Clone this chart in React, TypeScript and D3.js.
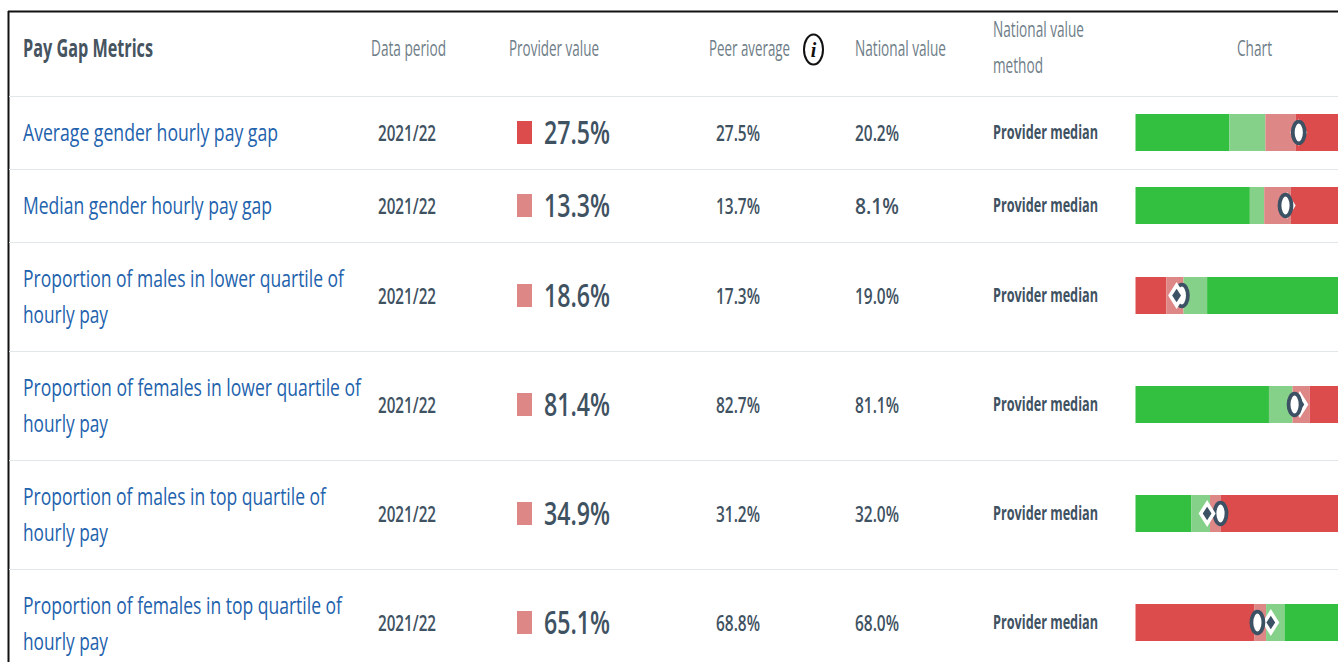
import React from "react";
import * as d3 from "d3";

// Table content
const metricLines = [
  ["Average gender hourly pay gap"],
  ["Median gender hourly pay gap"],
  ["Proportion of males in lower quartile of", "hourly pay"],
  ["Proportion of females in lower quartile of", "hourly pay"],
  ["Proportion of males in top quartile of", "hourly pay"],
  ["Proportion of females in top quartile of", "hourly pay"],
];
const metricWidths = [[255], [249], [321, 85], [338, 85], [303, 85], [319, 85]];
const periods = ["2021/22", "2021/22", "2021/22", "2021/22", "2021/22", "2021/22"];
const providerValues = [27.5, 13.3, 18.6, 81.4, 34.9, 65.1];
const peerValues = [27.5, 13.7, 17.3, 82.7, 31.2, 68.8];
const nationalValues = [20.2, 8.1, 19.0, 81.1, 32.0, 68.0];
const methods = ["Provider median", "Provider median", "Provider median", "Provider median", "Provider median", "Provider median"];
const swatchLevel = ["high", "mid", "mid", "mid", "mid", "mid"];

// Per-row chart: visible value domain and band edges (estimated from the bars)
const domainMin = [-8.2, -23.3, 7.2, 42.3, 11.4, 31.4];
const domainMax = [41.0, 31.6, 62.5, 97.6, 73.6, 93.6];
const bandEdges = [
  [12.3, 20.2, 26.8],
  [4.6, 8.1, 14.6],
  [14.8, 19.0, 24.8],
  [75.1, 80.9, 85.1],
  [26.8, 32.0, 35.0],
  [64.2, 67.5, 72.6],
];
const lowIsGood = [true, true, false, true, true, false];

// Layout
const rowLines = [96, 169, 242, 351, 460, 569];
const rowCenters = [133, 206, 296, 405, 514, 623];
const chartLeft = 1135.5;
const chartRight = 1360.5;
const barHeight = 37;

const GREEN = "#33c040";
const LIGHT_GREEN = "#85d18a";
const PINK = "#dd8787";
const RED = "#dc4c4c";
const INK = "#3f5262";
const LINK = "#2262ad";
const MUTED = "#6e7d87";
const FONT = "'Open Sans', sans-serif";

type TProps = { x: number; y: number; w: number; size: number; weight?: number; fill: string; children: string };
function T({ x, y, w, size, weight = 400, fill, children }: TProps) {
  return (
    <text x={x} y={y} textLength={w} lengthAdjust="spacingAndGlyphs" fontFamily={FONT} fontSize={size} fontWeight={weight} fill={fill}>
      {children}
    </text>
  );
}

function RowBar({ i }: { i: number }) {
  const x = d3.scaleLinear().domain([domainMin[i], domainMax[i]]).range([chartLeft, chartRight]);
  const colors = lowIsGood[i] ? [GREEN, LIGHT_GREEN, PINK, RED] : [RED, PINK, LIGHT_GREEN, GREEN];
  const edges = [domainMin[i], ...bandEdges[i], domainMax[i]];
  const top = rowCenters[i] - barHeight / 2 - 0.5;
  const cy = top + barHeight / 2;
  const diamond = (cx: number, rx: number, ry: number) => `M${cx - rx},${cy}L${cx},${cy - ry}L${cx + rx},${cy}L${cx},${cy + ry}Z`;
  const markers = [
    { kind: "peer", value: peerValues[i] },
    { kind: "provider", value: providerValues[i] },
  ].sort((a, b) => d3.descending(a.value, b.value));
  return (
    <g>
      {colors.map((c, k) => (
        <rect key={k} x={x(edges[k])} y={top} width={x(edges[k + 1]) - x(edges[k])} height={barHeight} fill={c} />
      ))}
      {markers.map((m) =>
        m.kind === "provider" ? (
          <ellipse key={m.kind} cx={x(m.value)} cy={cy} rx={6} ry={10.8} fill="#fff" stroke="#3d5165" strokeWidth={3.8} />
        ) : (
          <g key={m.kind}>
            <path d={diamond(x(m.value), 8.5, 13.5)} fill="#fff" />
            <path d={diamond(x(m.value), 4.4, 6.8)} fill="#3d5165" />
          </g>
        )
      )}
    </g>
  );
}

export default function App() {
  const pct = (v: number) => `${v.toFixed(1)}%`;
  return (
    <svg width={1338} height={662} style={{ position: "absolute", left: 0, top: 0, background: "#fff" }}>
      <line x1={8} x2={1338} y1={11.5} y2={11.5} stroke="#111" strokeWidth={2} />
      <line x1={8.5} x2={8.5} y1={11} y2={662} stroke="#111" strokeWidth={2} />
      {rowLines.map((y) => (
        <line key={y} x1={9} x2={1338} y1={y + 0.5} y2={y + 0.5} stroke="#e2e7ea" strokeWidth={1} />
      ))}

      <T x={23} y={57} w={130} size={25} weight={700} fill="#46545f">Pay Gap Metrics</T>
      <T x={371} y={56} w={75} size={22} fill={MUTED}>Data period</T>
      <T x={509} y={56} w={90} size={22} fill={MUTED}>Provider value</T>
      <T x={709} y={56} w={81} size={22} fill={MUTED}>Peer average</T>
      <T x={855} y={56} w={91} size={22} fill={MUTED}>National value</T>
      <T x={993} y={37} w={91} size={22} fill={MUTED}>National value</T>
      <T x={993} y={73} w={50} size={22} fill={MUTED}>method</T>
      <T x={1237} y={56} w={35} size={22} fill={MUTED}>Chart</T>
      <ellipse cx={813.5} cy={49.5} rx={9.5} ry={15} fill="#fff" stroke="#111" strokeWidth={2} />
      <text x={813.5} y={57} textAnchor="middle" fontFamily="'Liberation Serif', serif" fontStyle="italic" fontWeight={700} fontSize={20} fill="#111">i</text>

      {rowCenters.map((cy, i) => {
        const lines = metricLines[i];
        return (
          <g key={i}>
            {lines.map((line, k) => {
              const base = lines.length === 1 ? cy + 8 : cy - 9.5 + k * 36;
              return (
                <T key={k} x={23} y={base} w={metricWidths[i][k]} size={24.5} fill={LINK}>{line}</T>
              );
            })}
            <T x={378} y={cy + 7.5} w={58} size={22} weight={600} fill={INK}>{periods[i]}</T>
            <rect x={517} y={cy - 12} width={15} height={23} fill={swatchLevel[i] === "high" ? RED : PINK} />
            <T x={544} y={cy + 11} w={66} size={33} weight={600} fill={INK}>{pct(providerValues[i])}</T>
            <T x={716} y={cy + 7.5} w={44} size={22} weight={600} fill={INK}>{pct(peerValues[i])}</T>
            <T x={855} y={cy + 7.5} w={44} size={22} weight={600} fill={INK}>{pct(nationalValues[i])}</T>
            <T x={993} y={cy + 5.5} w={105} size={20} weight={700} fill={INK}>{methods[i]}</T>
            <RowBar i={i} />
          </g>
        );
      })}
    </svg>
  );
}
